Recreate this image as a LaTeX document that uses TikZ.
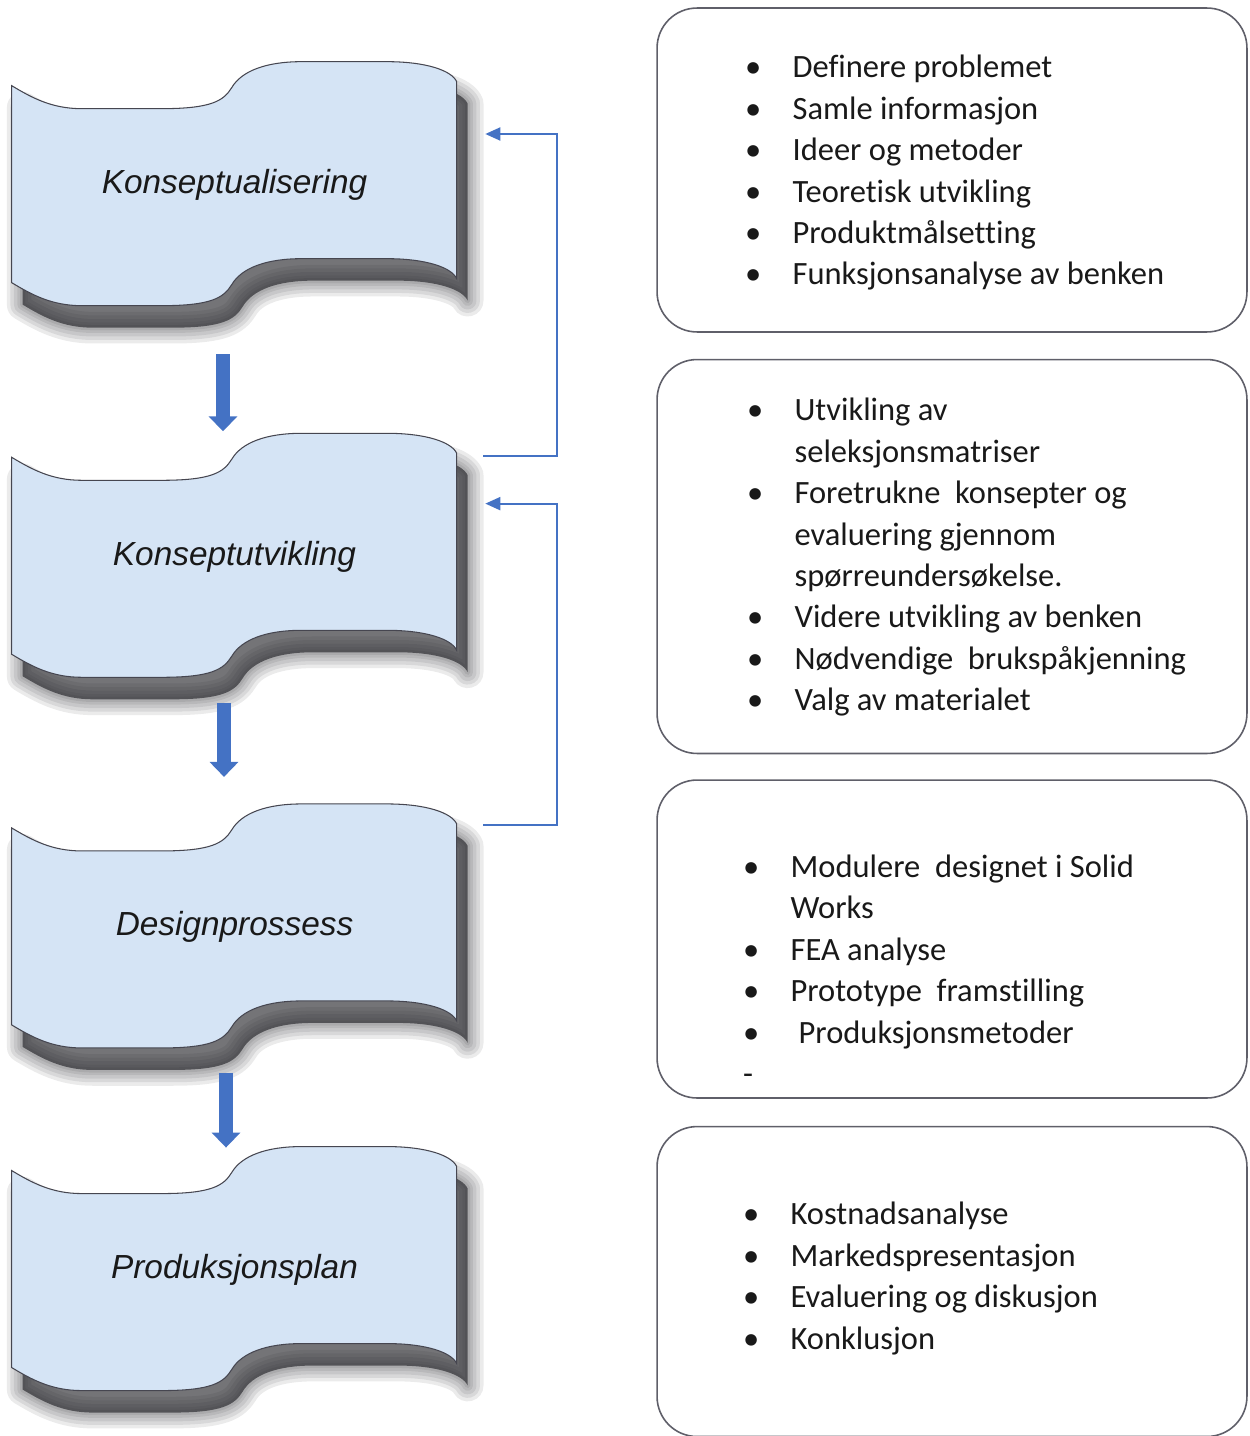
\documentclass[tikz,border=0pt]{standalone}
\usepackage{fontspec}
\setmainfont{Carlito}[Ligatures=NoCommon]
\newfontfamily\bannerfont{Liberation Sans}
\usetikzlibrary{positioning, arrows.meta, calc, backgrounds}

\definecolor{bannerfill}{RGB}{213,228,245}
\definecolor{bannerline}{RGB}{70,70,80}
\definecolor{shadowgray}{RGB}{30,30,35}
\definecolor{flowblue}{RGB}{68,114,196}
\definecolor{panelline}{RGB}{95,95,105}
\definecolor{textdark}{RGB}{25,25,25}

% outline of one banner, origin at its top left corner (px units)
\newcommand{\wavepath}{(0,0) .. controls (20,12) and (40,23) .. (70,23) -- (150,23)
    .. controls (200,23) and (212,15) .. (220,2)
    .. controls (230,-15) and (255,-24) .. (290,-24) -- (375,-24)
    .. controls (415,-24) and (440,-15) .. (445,-4) -- (445,193)
    .. controls (440,182) and (415,173) .. (375,173) -- (290,173)
    .. controls (255,173) and (230,182) .. (220,199)
    .. controls (212,212) and (200,220) .. (150,220) -- (70,220)
    .. controls (40,220) and (20,209) .. (0,197) -- cycle}

\tikzset{
    wave/.pic={
        \foreach \w in {18pt,14pt,10pt,6pt,3pt} {
            \draw[shadowgray, opacity=0.09, line width=\w, line join=round, shift={(11,22)}] \wavepath;
        }
        \fill[shadowgray, opacity=0.62, shift={(11,22)}] \wavepath;
        \filldraw[fill=bannerfill, draw=bannerline, line width=0.6pt] \wavepath;
    }
}

\begin{document}
\begin{tikzpicture}[
    x=0.02cm, y=-0.02cm,
    >=Triangle,
    banner/.style={
        rectangle,
        minimum width=8.9cm,
        minimum height=3.96cm,
        inner sep=0pt,
        text=textdark,
        font=\bannerfont\itshape\fontsize{19}{23}\selectfont
    },
    panel/.style={
        rectangle,
        rounded corners=0.8cm,
        draw=panelline,
        line width=0.9pt,
        fill=white,
        minimum width=11.8cm
    },
    list/.style={
        anchor=west,
        inner sep=0pt,
        align=left,
        text=textdark,
        font=\fontsize{18.5}{23.6}\selectfont
    },
    flow/.style={
        -{Triangle[width=0.56cm, length=0.3cm]},
        draw=flowblue,
        line width=0.28cm
    },
    feedback/.style={
        -{Triangle[width=0.26cm, length=0.3cm]},
        draw=flowblue,
        line width=1.1pt
    }
]
    \useasboundingbox (0,0) rectangle (1250,1436);

    % Phases
    \node[banner] (b1) at (234.5,185) {Konseptualisering};
    \node[banner, below=3.46cm of b1] (b2) {Konseptutvikling};
    \node[banner, below=3.44cm of b2] (b3) {Designprossess};
    \node[banner, below=2.88cm of b3] (b4) {Produksjonsplan};

    \begin{scope}[on background layer]
        \foreach \b in {b1,b2,b3,b4} {
            \pic at (\b.north west) {wave};
        }
    \end{scope}

    % Flow between phases
    \draw[flow] ($(b1.south)+(-11.5,70)$) -- ($(b2.north)+(-11.5,-26)$);
    \draw[flow] ($(b2.south)+(-10.5,47)$) -- ($(b3.north)+(-10.5,-51)$);
    \draw[flow] ($(b3.south)+(-8.5,46)$) -- ($(b4.north)+(-8.5,-23)$);

    % Feedback loops
    \draw[feedback] ($(b2.north east)+(26,-1)$) -- ++(74,0) |- ($(b1.east)+(28,-51)$);
    \draw[feedback] ($(b3.north east)+(26,-3)$) -- ++(74,0) |- ($(b2.east)+(28,-53)$);

    % Task boxes
    \node[panel, minimum height=6.48cm] (box1) at (952,170) {};
    \node[panel, minimum height=7.88cm, below=0.52cm of box1] (box2) {};
    \node[panel, minimum height=6.36cm, below=0.5cm of box2] (box3) {};
    \node[panel, minimum height=6.2cm, below=0.54cm of box3] (box4) {};

    \node[list] (l1) at ($(box1.west)+(88.5,3)$) {%
        \begin{tabular}{@{}p{0.95cm}@{}l@{}}
            \textbullet & Definere problemet\\
            \textbullet & Samle informasjon\\
            \textbullet & Ideer og metoder\\
            \textbullet & Teoretisk utvikling\\
            \textbullet & Produktmålsetting\\
            \textbullet & Funksjonsanalyse av benken
        \end{tabular}};

    \node[list] (l2) at ($(box2.west)+(90.5,1)$) {%
        \begin{tabular}{@{}p{0.95cm}@{}l@{}}
            \textbullet & Utvikling av\\
                        & seleksjonsmatriser\\
            \textbullet & Foretrukne~ konsepter og\\
                        & evaluering gjennom\\
                        & spørreundersøkelse.\\
            \textbullet & Videre utvikling av benken\\
            \textbullet & Nødvendige~ brukspåkjenning\\
            \textbullet & Valg av materialet
        \end{tabular}};

    \node[list] (l3) at ($(box3.west)+(86.5,33.5)$) {%
        \begin{tabular}{@{}p{0.95cm}@{}l@{}}
            \textbullet & Modulere~ designet i Solid\\
                        & Works\\
            \textbullet & FEA analyse\\
            \textbullet & Prototype~ framstilling\\
            \textbullet & \hspace{0.16cm}Produksjonsmetoder\\
            -           &
        \end{tabular}};

    \node[list] (l4) at ($(box4.west)+(86.5,-3)$) {%
        \begin{tabular}{@{}p{0.95cm}@{}l@{}}
            \textbullet & Kostnadsanalyse\\
            \textbullet & Markedspresentasjon\\
            \textbullet & Evaluering og diskusjon\\
            \textbullet & Konklusjon
        \end{tabular}};

\end{tikzpicture}
\end{document}
